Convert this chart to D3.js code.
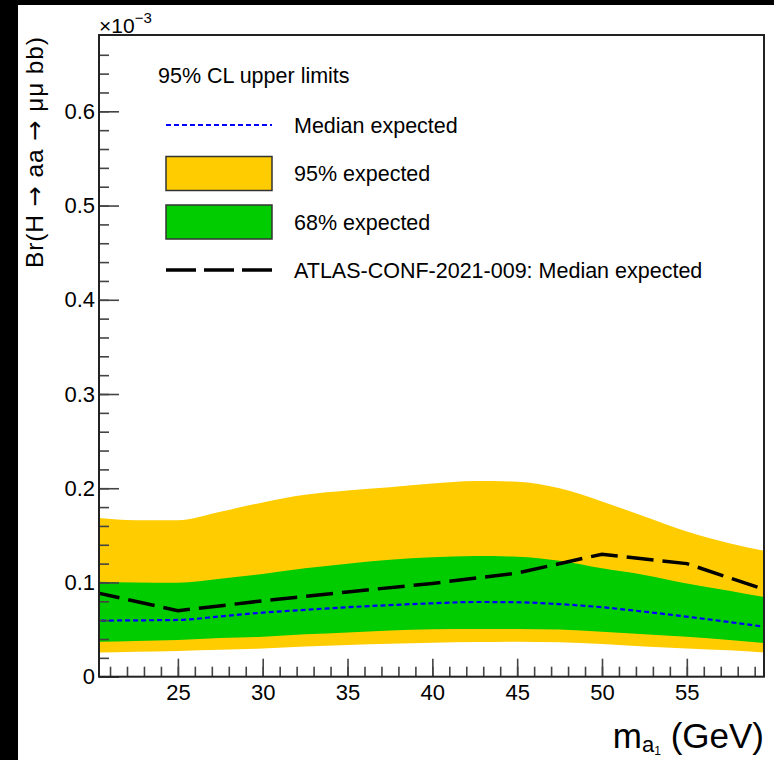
<!DOCTYPE html>
<html>
<head>
<meta charset="utf-8">
<script src="https://cdn.jsdelivr.net/npm/d3@7"></script>
<style>
  body { margin: 0; background: #000; }
  svg { display: block; font-family: 'Liberation Sans', Arial, sans-serif; }
</style>
</head>
<body>
<div id="chart"></div>
<script>
// mass points (GeV) for the expected limits, values in units of 1e-3
const massPoints = [20, 22.5, 25, 27.5, 30, 32.5, 35, 37.5, 40, 42.5, 45, 47.5, 50, 52.5, 55, 57.5, 60];
const up95 = [0.169, 0.166, 0.166, 0.175, 0.185, 0.193, 0.1975, 0.201, 0.205, 0.2077, 0.207, 0.200, 0.186, 0.170, 0.154, 0.1416, 0.132];
const up68 = [0.101, 0.100, 0.0998, 0.104, 0.109, 0.115, 0.120, 0.124, 0.1267, 0.128, 0.1274, 0.123, 0.115, 0.108, 0.099, 0.0913, 0.083];
const median = [0.0595, 0.0598, 0.0602, 0.064, 0.068, 0.071, 0.0737, 0.076, 0.0779, 0.0793, 0.079, 0.077, 0.0737, 0.069, 0.0637, 0.058, 0.052];
const down68 = [0.037, 0.038, 0.039, 0.041, 0.0425, 0.045, 0.047, 0.049, 0.0503, 0.0506, 0.0506, 0.050, 0.0478, 0.045, 0.0425, 0.039, 0.035];
const down95 = [0.0255, 0.0265, 0.0273, 0.0285, 0.030, 0.032, 0.0336, 0.035, 0.036, 0.0368, 0.0372, 0.0365, 0.0347, 0.032, 0.030, 0.028, 0.025];

// ATLAS-CONF-2021-009 median expected
const atlasMass = [20, 25, 30, 35, 40, 45, 50, 55, 60];
const atlasMedian = [0.090, 0.070, 0.0805, 0.090, 0.099, 0.110, 0.130, 0.120, 0.090];

const yTicks = [0, 0.1, 0.2, 0.3, 0.4, 0.5, 0.6];
const xTicks = [25, 30, 35, 40, 45, 50, 55];

const legendEntries = [
  { label: 'Median expected', kind: 'median' },
  { label: '95% expected', kind: 'band95' },
  { label: '68% expected', kind: 'band68' },
  { label: 'ATLAS-CONF-2021-009: Median expected', kind: 'atlas' },
];

const width = 774;
const height = 760;
const margin = { left: 99, right: 10, top: 35, bottom: 83.3 };

const yellow = '#ffcc00';
const green = '#00cc00';
const blue = '#0000ff';

const svg = d3
  .select('#chart')
  .append('svg')
  .attr('width', width)
  .attr('height', height);

// page background (black strips at top/left like the screenshot)
svg.append('rect').attr('width', width).attr('height', height).attr('fill', '#000');
svg.append('rect').attr('x', 18).attr('y', 5).attr('width', width - 18).attr('height', height - 5).attr('fill', '#fff');

const x = d3.scaleLinear().domain([20.35, 59.55]).range([margin.left, width - margin.right]);
const y = d3.scaleLinear().domain([0, 0.681]).range([height - margin.bottom, margin.top]);

svg
  .append('clipPath')
  .attr('id', 'plot-clip')
  .append('rect')
  .attr('x', x.range()[0])
  .attr('y', y.range()[1])
  .attr('width', x.range()[1] - x.range()[0])
  .attr('height', y.range()[0] - y.range()[1]);

const plot = svg.append('g').attr('clip-path', 'url(#plot-clip)');

const rows = massPoints.map((m, i) => ({
  m,
  up95: up95[i],
  up68: up68[i],
  med: median[i],
  down68: down68[i],
  down95: down95[i],
}));

const band = (lo, hi) =>
  d3
    .area()
    .x((d) => x(d.m))
    .y0((d) => y(d[lo]))
    .y1((d) => y(d[hi]))
    .curve(d3.curveMonotoneX);

plot.append('path').datum(rows).attr('d', band('down95', 'up95')).attr('fill', yellow);
plot.append('path').datum(rows).attr('d', band('down68', 'up68')).attr('fill', green);

// median expected
plot
  .append('path')
  .datum(rows)
  .attr(
    'd',
    d3
      .line()
      .x((d) => x(d.m))
      .y((d) => y(d.med))
      .curve(d3.curveMonotoneX)
  )
  .attr('fill', 'none')
  .attr('stroke', blue)
  .attr('stroke-width', 2.2)
  .attr('stroke-dasharray', '5,3');

// ATLAS median expected
plot
  .append('path')
  .datum(atlasMass.map((m, i) => [m, atlasMedian[i]]))
  .attr(
    'd',
    d3
      .line()
      .x((d) => x(d[0]))
      .y((d) => y(d[1]))
  )
  .attr('fill', 'none')
  .attr('stroke', '#000')
  .attr('stroke-width', 3.5)
  .attr('stroke-dasharray', '27,9');

// axes (ticks point inwards), minor and major ticks in separate groups
const fmt = (d) => (d === 0 ? '0' : d3.format('.1f')(d));

const yMinor = svg
  .append('g')
  .attr('transform', `translate(${margin.left},0)`)
  .call(d3.axisLeft(y).tickValues(d3.range(0.02, 0.67, 0.02)).tickSize(-10).tickFormat(''));
const yMajor = svg
  .append('g')
  .attr('transform', `translate(${margin.left},0)`)
  .call(d3.axisLeft(y).tickValues(yTicks).tickSize(-20).tickPadding(4).tickFormat(fmt));

const xMinor = svg
  .append('g')
  .attr('transform', `translate(0,${y(0)})`)
  .call(d3.axisBottom(x).tickValues(d3.range(21, 60, 1)).tickSize(-10).tickFormat(''));
const xMajor = svg
  .append('g')
  .attr('transform', `translate(0,${y(0)})`)
  .call(d3.axisBottom(x).tickValues(xTicks).tickSize(-18).tickPadding(8));

[yMinor, yMajor, xMinor, xMajor].forEach((g) => {
  g.selectAll('.domain').remove();
  g.selectAll('.tick line').attr('stroke', '#444').attr('stroke-width', 1.6);
  g.selectAll('text').attr('font-size', 22).attr('fill', '#000').attr('font-family', 'Liberation Sans, Arial, sans-serif');
});

// frame
svg
  .append('rect')
  .attr('x', x.range()[0])
  .attr('y', y.range()[1])
  .attr('width', x.range()[1] - x.range()[0])
  .attr('height', y.range()[0] - y.range()[1])
  .attr('fill', 'none')
  .attr('stroke', '#222')
  .attr('stroke-width', 2);

// x10^-3 exponent
const expo = svg.append('text').attr('x', 99).attr('y', 33).attr('font-size', 21);
expo.append('tspan').text('×10');
expo.append('tspan').attr('font-size', 15).attr('dy', -10).text('−3');

// y title (arrows from DejaVu Sans, wider like the original)
const yt = svg
  .append('text')
  .attr('transform', 'rotate(-90)')
  .attr('x', -37)
  .attr('y', 43)
  .attr('text-anchor', 'end')
  .attr('font-size', 24.5)
  .attr('textLength', 231)
  .attr('lengthAdjust', 'spacing');
yt.append('tspan').text('Br(H ');
yt.append('tspan').attr('font-family', 'DejaVu Sans').text('→');
yt.append('tspan').text(' aa ');
yt.append('tspan').attr('font-family', 'DejaVu Sans').text('→');
yt.append('tspan').text(' μμ bb)');

// x title
const xt = svg
  .append('text')
  .attr('x', 764)
  .attr('y', 748)
  .attr('text-anchor', 'end')
  .attr('font-size', 35);
xt.append('tspan').text('m');
xt.append('tspan').attr('font-size', 22).attr('dy', 4).text('a');
xt.append('tspan').attr('font-size', 12).attr('dy', 3).text('1');
xt.append('tspan').attr('dy', -7).text(' (GeV)');

// legend
const legend = svg.append('g').attr('font-size', 21.5);

legend.append('text').attr('x', 158).attr('y', 83).text('95% CL upper limits');

const rowY = [125, 173.5, 222, 270];
const symX0 = 166;
const symX1 = 272;

legendEntries.forEach((e, i) => {
  const cy = rowY[i];
  if (e.kind === 'median') {
    legend.append('line').attr('x1', symX0).attr('x2', symX1).attr('y1', cy).attr('y2', cy)
      .attr('stroke', blue).attr('stroke-width', 2).attr('stroke-dasharray', '5,3');
  } else if (e.kind === 'atlas') {
    legend.append('line').attr('x1', symX0).attr('x2', symX1).attr('y1', cy).attr('y2', cy)
      .attr('stroke', '#000').attr('stroke-width', 3.5).attr('stroke-dasharray', '30,8');
  } else {
    legend.append('rect').attr('x', symX0).attr('y', cy - 17).attr('width', symX1 - symX0).attr('height', 34)
      .attr('fill', e.kind === 'band95' ? yellow : green).attr('stroke', '#333').attr('stroke-width', 1.5);
  }
  legend.append('text').attr('x', 294).attr('y', cy).attr('dy', '0.36em').text(e.label);
});
</script>
</body>
</html>
